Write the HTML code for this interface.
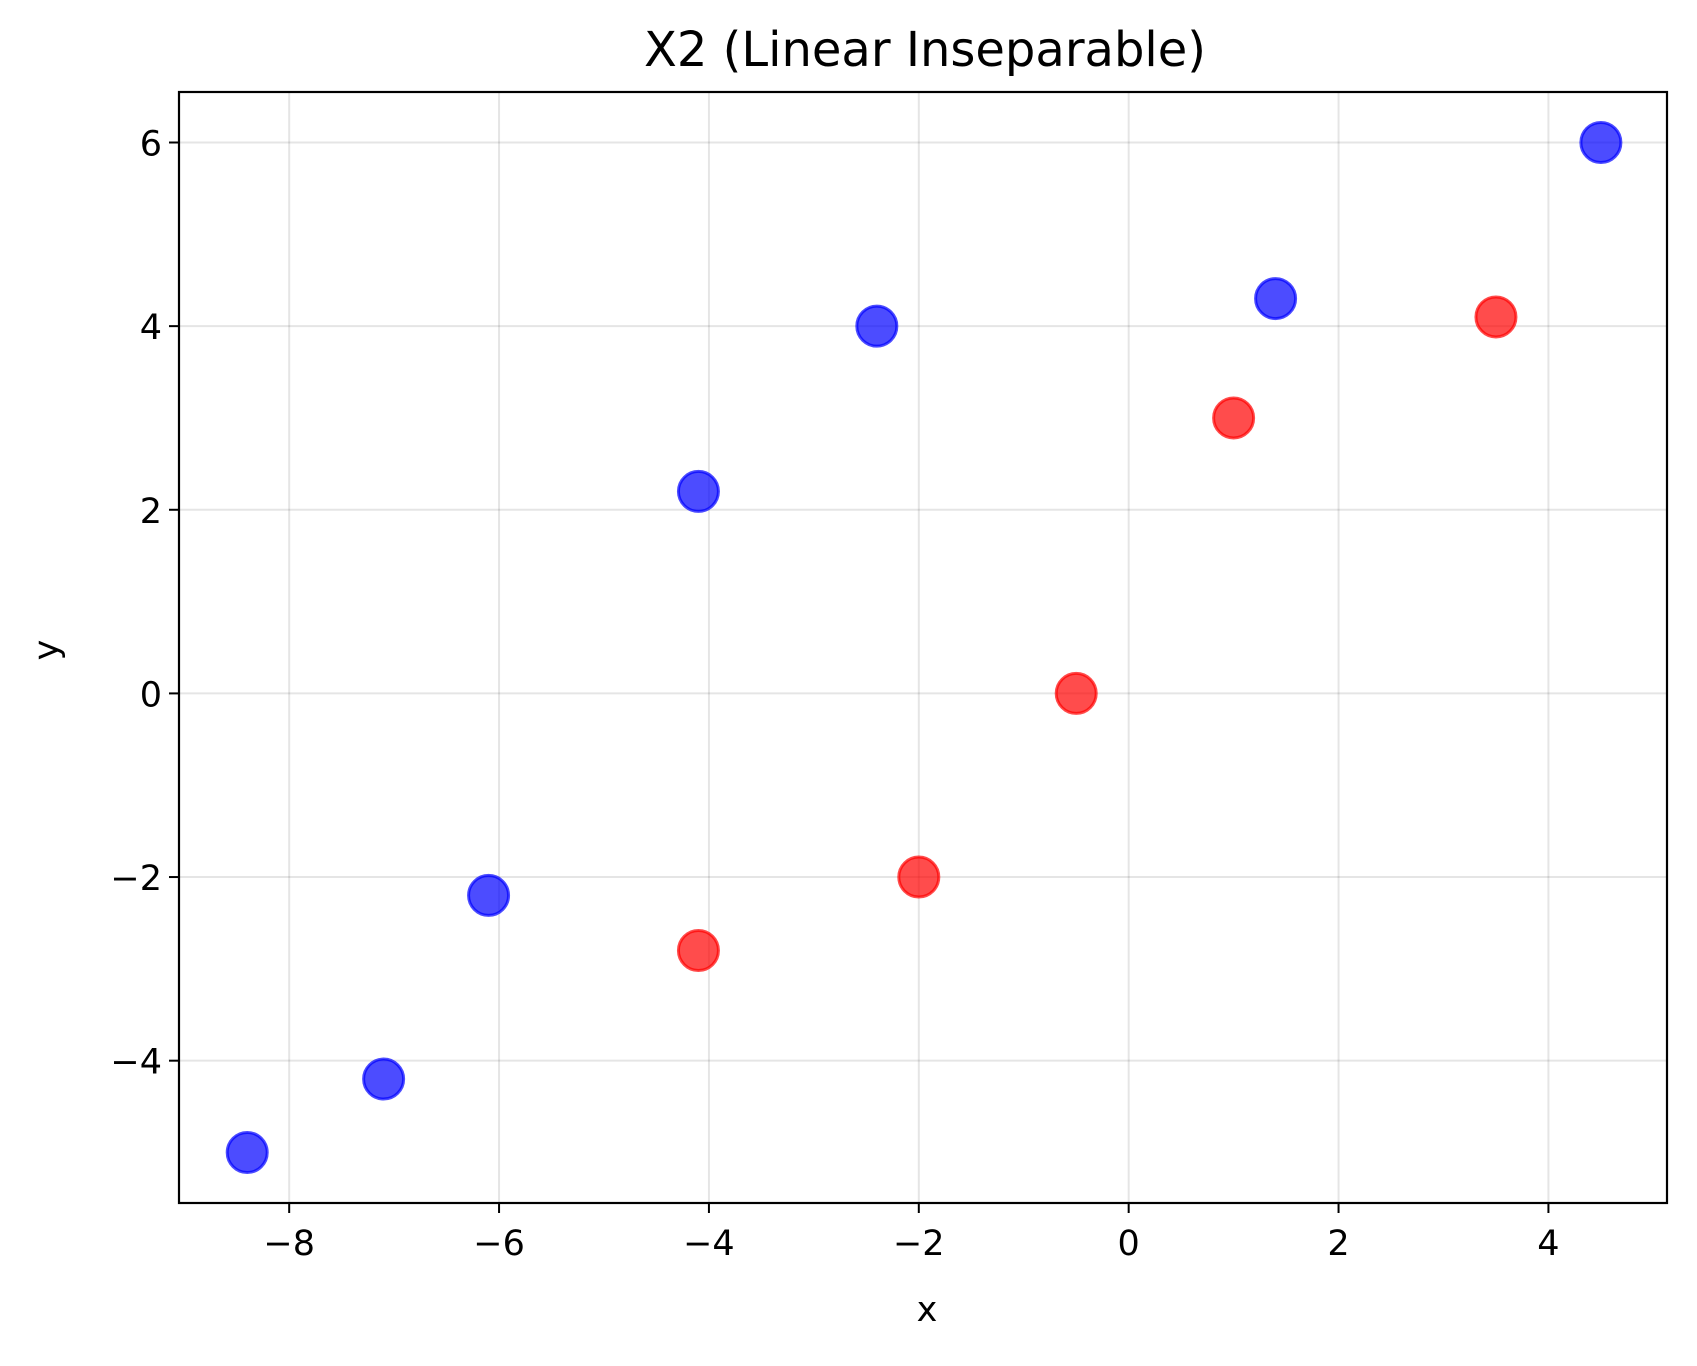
<!DOCTYPE html>
<html><head><meta charset="utf-8"><style>
html,body{margin:0;padding:0;background:#fff}
svg text{font-family:"DejaVu Sans","Liberation Sans",sans-serif;fill:#000}
</style></head><body>
<svg id="chart" width="1697" height="1361" viewBox="0 0 1697 1361" xmlns="http://www.w3.org/2000/svg">
<rect width="1697" height="1361" fill="#fff"/>
<g id="grid"></g>
<g id="points"></g>
<rect x="179" y="92" width="1488" height="1111" fill="none" stroke="#000" stroke-width="2.2"/>
<g id="ticks"></g>
<text x="925" y="66" font-size="48" text-anchor="middle">X2 (Linear Inseparable)</text>
<text x="927" y="1321" font-size="35" text-anchor="middle">x</text>
<text x="58" y="650" font-size="35" text-anchor="middle" transform="rotate(-90 58 650)">y</text>
</svg>
<script>
const blueX=[-8.4,-7.1,-6.1,-4.1,-2.4,1.4,4.5];
const blueY=[-5,-4.2,-2.2,2.2,4,4.3,6];
const redX=[-4.1,-2,-0.5,1,3.5];
const redY=[-2.8,-2,0,3,4.1];
const xTicks=[-8,-6,-4,-2,0,2,4];
const yTicks=[-4,-2,0,2,4,6];
const xMin=-9.05,xMax=5.13,yMin=-5.55,yMax=6.55;
const L=179,R=1667,T=92,B=1203;
function sx(v){return L+(v-xMin)/(xMax-xMin)*(R-L);}
function sy(v){return B-(v-yMin)/(yMax-yMin)*(B-T);}
const NS='http://www.w3.org/2000/svg';
const grid=document.getElementById('grid'),ticks=document.getElementById('ticks'),pts=document.getElementById('points');
function mk(tag,attrs,parent){const e=document.createElementNS(NS,tag);for(const k in attrs)e.setAttribute(k,attrs[k]);parent.appendChild(e);return e;}
function lab(v){return v<0?'\u2212'+(-v):String(v);}
xTicks.forEach(v=>{
  const x=sx(v);
  const g=mk('line',{x1:x,x2:x,y1:T,y2:B,stroke:'#000','stroke-opacity':0.1,'stroke-width':2},grid);
  
  
  const t=mk('line',{x1:x,x2:x,y1:B,y2:B+10,stroke:'#000','stroke-width':2},ticks);
  
  
  const tx=mk('text',{x:x,y:B+52,'font-size':35,'text-anchor':'middle'},ticks);
  tx.textContent=lab(v);
  
  
});
yTicks.forEach(v=>{
  const y=sy(v);
  const g=mk('line',{x1:L,x2:R,y1:y,y2:y,stroke:'#000','stroke-opacity':0.1,'stroke-width':2},grid);
  
  
  const t=mk('line',{x1:L-10,x2:L,y1:y,y2:y,stroke:'#000','stroke-width':2},ticks);
  
  
  const tx=mk('text',{x:L-17,y:y+13,'font-size':35,'text-anchor':'end'},ticks);
  tx.textContent=lab(v);
  
  
});
function drawSeries(xs,ys,color,name){
  xs.forEach((v,i)=>{
    const c=mk('circle',{cx:sx(v),cy:sy(ys[i]),r:20,fill:color,'fill-opacity':0.7,stroke:color,'stroke-opacity':0.7,'stroke-width':3},pts);
    
    
  });
}
drawSeries(blueX,blueY,'#0000ff','blue-point');
drawSeries(redX,redY,'#ff0000','red-point');
</script>
</body></html>
